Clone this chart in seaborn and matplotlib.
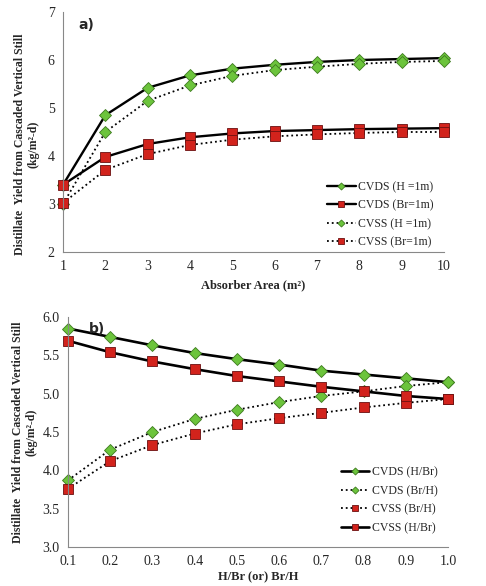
import numpy as np
import matplotlib
matplotlib.use("Agg")
import matplotlib.pyplot as plt
import pandas as pd
import seaborn as sns

# panel a) absorber area
area = [1, 2, 3, 4, 5, 6, 7, 8, 9, 10]
cvds_h1 = [3.40, 4.85, 5.42, 5.68, 5.82, 5.90, 5.96, 6.00, 6.02, 6.04]
cvds_br1 = [3.40, 3.98, 4.25, 4.39, 4.47, 4.52, 4.54, 4.56, 4.57, 4.58]
cvss_h1 = [3.00, 4.50, 5.15, 5.47, 5.67, 5.79, 5.86, 5.92, 5.96, 5.98]
cvss_br1 = [3.02, 3.71, 4.04, 4.23, 4.34, 4.41, 4.45, 4.48, 4.50, 4.50]

# panel b) aspect ratio
ratio = [0.1, 0.2, 0.3, 0.4, 0.5, 0.6, 0.7, 0.8, 0.9, 1.0]
cvds_hbr = [5.85, 5.74, 5.63, 5.53, 5.45, 5.38, 5.30, 5.25, 5.20, 5.15]
cvds_brh = [3.87, 4.27, 4.50, 4.67, 4.79, 4.89, 4.97, 5.03, 5.10, 5.15]
cvss_brh = [3.76, 4.12, 4.33, 4.48, 4.60, 4.68, 4.75, 4.82, 4.88, 4.93]
cvss_hbr = [5.69, 5.54, 5.42, 5.32, 5.23, 5.16, 5.09, 5.03, 4.97, 4.93]

green = "#6cc43c"
red = "#d2231c"

sns.set_style("white")
plt.rcParams['font.family'] = ['Liberation Serif', 'DejaVu Serif']

fig = plt.figure(figsize=(4.86, 5.86), dpi=100)
ax1 = fig.add_axes([63 / 486, 1 - 252 / 586, (444 - 63) / 486, (252 - 12) / 586])
ax2 = fig.add_axes([68 / 486, 1 - 547 / 586, (448 - 68) / 486, (547 - 317) / 586])


def draw(ax, x, y, label, color, marker, ls, lw, ms):
    df = pd.DataFrame({"x": x, "y": y})
    sns.lineplot(data=df, x="x", y="y", ax=ax, color="black", linestyle=ls,
                 linewidth=lw, marker=marker, markersize=ms,
                 markerfacecolor=color, markeredgecolor="#6a1010" if color == red else "#3d7a1e",
                 markeredgewidth=0.6, label=label, clip_on=False)


draw(ax1, area, cvds_h1, "CVDS (H =1m)", green, "D", "-", 1.7, 6)
draw(ax1, area, cvds_br1, "CVDS (Br=1m)", red, "s", "-", 1.7, 7.5)
draw(ax1, area, cvss_h1, "CVSS (H =1m)", green, "D", ":", 1.3, 6)
draw(ax1, area, cvss_br1, "CVSS (Br=1m)", red, "s", ":", 1.3, 7.5)

draw(ax2, ratio, cvds_hbr, "CVDS (H/Br)", green, "D", "-", 1.9, 6)
draw(ax2, ratio, cvds_brh, "CVDS (Br/H)", green, "D", ":", 1.3, 6)
draw(ax2, ratio, cvss_brh, "CVSS (Br/H)", red, "s", ":", 1.3, 7.5)
draw(ax2, ratio, cvss_hbr, "CVSS (H/Br)", red, "s", "-", 1.9, 7.5)

ylab = "Distillate  Yield from Cascaded Vertical Still\n(kg/m²-d)"

ax1.set_xlim(1, 10)
ax1.set_ylim(2, 7)
ax1.set_xticks(area)
ax1.set_yticks([2, 3, 4, 5, 6, 7])
ax1.set_xlabel("Absorber Area (m²)", fontsize=9, fontweight="bold", labelpad=4)
ax1.set_ylabel(ylab, fontsize=8.5, fontweight="bold")
ax1.yaxis.set_label_coords(-0.062, 0.45)
ax1.text(0.04, 0.93, "a)", transform=ax1.transAxes, fontsize=10,
         fontweight="bold", family="DejaVu Sans")

ax2.set_xlim(0.1, 1.0)
ax2.set_ylim(3.0, 6.0)
ax2.set_xticks(ratio)
ax2.set_xticklabels([f"{v:.1f}" for v in ratio])
ax2.set_yticks([3.0, 3.5, 4.0, 4.5, 5.0, 5.5, 6.0])
ax2.set_yticklabels([f"{v:.1f}" for v in [3.0, 3.5, 4.0, 4.5, 5.0, 5.5, 6.0]])
ax2.set_xlabel("H/Br (or) Br/H", fontsize=9, fontweight="bold", labelpad=2)
ax2.set_ylabel(ylab, fontsize=8.5, fontweight="bold")
ax2.yaxis.set_label_coords(-0.08, 0.5)
ax2.text(0.055, 0.93, "b)", transform=ax2.transAxes, fontsize=10,
         fontweight="bold", family="DejaVu Sans")

for ax in (ax1, ax2):
    for s in ("top", "right"):
        ax.spines[s].set_visible(False)
    for s in ("left", "bottom"):
        ax.spines[s].set_color("#888888")
        ax.spines[s].set_linewidth(0.8)
    ax.tick_params(axis="both", direction="out", length=3, width=0.6,
                   color="#888888", labelsize=10, pad=3)
    ax.grid(False)

ax1.legend(loc="lower right", bbox_to_anchor=(1.0, -0.03), frameon=False,
           fontsize=8.5, handlelength=2.4, handletextpad=0.2, labelspacing=0.55,
           markerscale=0.6)
ax2.legend(loc="lower right", bbox_to_anchor=(1.0, 0.01), frameon=False,
           fontsize=8.5, handlelength=2.4, handletextpad=0.2, labelspacing=0.55,
           markerscale=0.6)

fig.savefig("out.png", dpi=100)
